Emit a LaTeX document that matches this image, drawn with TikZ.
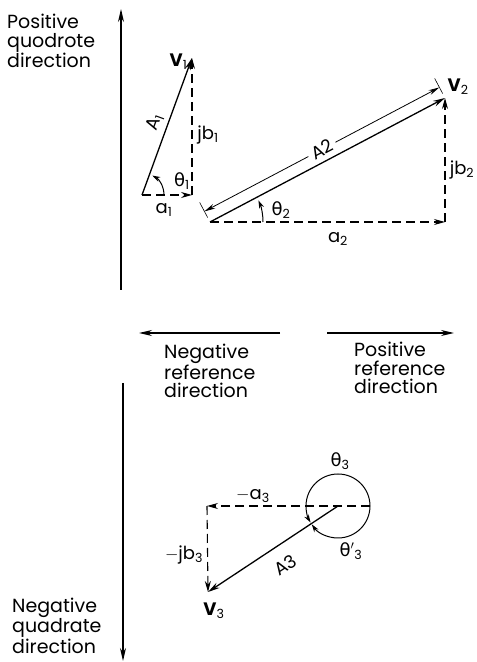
\documentclass[tikz,border=0pt]{standalone}
\usepackage{fontspec}
\setmainfont{Poppins}
\newfontfamily\grk{DejaVu Sans}
\usetikzlibrary{positioning, arrows.meta}
\tikzset{
  axis/.style={line width=1.4pt, -{Stealth[length=13pt,width=6pt]}},
  vec/.style={line width=1.3pt, -{Stealth[length=12pt,width=6pt]}},
  comp/.style={line width=1.1pt, dash pattern=on 9pt off 5pt, -{Stealth[length=11pt,width=6pt]}},
  turn/.style={line width=1pt, -{Stealth[length=8pt,width=5pt]}},
  lbl/.style={font=\fontsize{18}{18}\selectfont, inner sep=1.5pt},
  note/.style={font=\fontsize{19}{18.5}\selectfont, align=left, inner sep=0pt},
}
\newcommand{\thv}{{\grk θ}}

\begin{document}
\begin{tikzpicture}[x=1pt, y=1pt]
  \useasboundingbox (0,0) rectangle (477,662);
  % reference axes
  \coordinate (qp0) at (121,372);
  \coordinate (qp1) at (121,653);
  \coordinate (qn0) at (123,279);
  \coordinate (qn1) at (123,1);
  \coordinate (rn0) at (280,329);
  \coordinate (rn1) at (139,329);
  \coordinate (rp0) at (327,329);
  \coordinate (rp1) at (454,329);
  \draw[axis] (qp0) -- (qp1);
  \draw[axis] (qn0) -- (qn1);
  \draw[axis] (rn0) -- (rn1);
  \draw[axis] (rp0) -- (rp1);
  \node[note, anchor=north west] (tqp) at (7,648) {Positive\\quodrote\\direction};
  \node[note, anchor=north west] (trn) at (164,318) {Negative\\reference\\direction};
  \node[note, anchor=north west] (trp) at (354,320) {Positive\\reference\\direction};
  \node[note, anchor=north west] (tqn) at (12,64) {Negative\\quadrate\\direction};
  % V1
  \coordinate (o1) at (142,467);
  \coordinate (c1) at (192,467);
  \coordinate (v1) at (192,604);
  \draw[comp] (o1) -- (c1);
  \draw[comp] (c1) -- (v1);
  \draw[vec] (o1) -- node[lbl, sloped, above=3pt] (lA1) {A\textsubscript{1}} (v1);
  \draw[turn] (o1) ++(22,0) arc[start angle=0, end angle=62, radius=22];
  \node[lbl] (la1) at (164,452) {a\textsubscript{1}};
  \node[lbl] (lb1) at (208,527) {jb\textsubscript{1}};
  \node[lbl] (th1) at (182,481) {\thv\textsubscript{1}};
  \node[lbl, anchor=east] (lv1) at (189,600) {\textbf{V}\textsubscript{1}};
  % V2
  \coordinate (o2) at (210,440);
  \coordinate (c2) at (445,440);
  \coordinate (v2) at (445,564);
  \coordinate (d1) at (204.4,450.6);
  \coordinate (d2) at (439.4,574.6);
  \coordinate (t1a) at (207.7,444.4);
  \coordinate (t1b) at (199.7,459.5);
  \coordinate (t2a) at (442.7,568.4);
  \coordinate (t2b) at (434.7,583.5);
  \draw[comp] (o2) -- (c2);
  \draw[comp] (c2) -- (v2);
  \draw[vec] (o2) -- (v2);
  \draw[line width=0.6pt] (t1a) -- (t1b);
  \draw[line width=0.6pt] (t2a) -- (t2b);
  \draw[line width=0.8pt, {Stealth[length=11pt,width=5pt]}-{Stealth[length=11pt,width=5pt]}] (d1) -- node[lbl, sloped, fill=white, inner sep=4pt] (lA2) {A2} (d2);
  \draw[turn] (o2) ++(53,0) arc[start angle=0, end angle=24, radius=53];
  \node[lbl] (th2) at (281,452) {\thv\textsubscript{2}};
  \node[lbl] (la2) at (338,423) {a\textsubscript{2}};
  \node[lbl] (lb2) at (462,492) {jb\textsubscript{2}};
  \node[lbl, anchor=west] (lv2) at (446,575) {\textbf{V}\textsubscript{2}};
  % V3
  \coordinate (o3) at (338,156);
  \coordinate (e3) at (370,156);
  \coordinate (c3) at (207,156);
  \coordinate (v3) at (208,70);
  \draw[comp] (e3) -- (c3);
  \draw[comp] (c3) -- (v3);
  \draw[vec] (o3) -- (v3);
  \draw[turn] (o3) ++(32,0) arc[start angle=0, end angle=211, radius=32];
  \draw[turn] (o3) ++(32,0) arc[start angle=0, end angle=-145, radius=32];
  \node[lbl, rotate=33] (lA3) at (285,97) {A3};
  \node[lbl] (th3) at (340,201) {\thv\textsubscript{3}};
  \node[lbl] (th3p) at (351,111) {\thv$'$\textsubscript{3}};
  \node[lbl] (la3) at (253,166) {$-$a\textsubscript{3}};
  \node[lbl] (lb3) at (184,107) {$-$jb\textsubscript{3}};
  \node[lbl] (lv3) at (214,51) {\textbf{V}\textsubscript{3}};
\end{tikzpicture}
\end{document}
